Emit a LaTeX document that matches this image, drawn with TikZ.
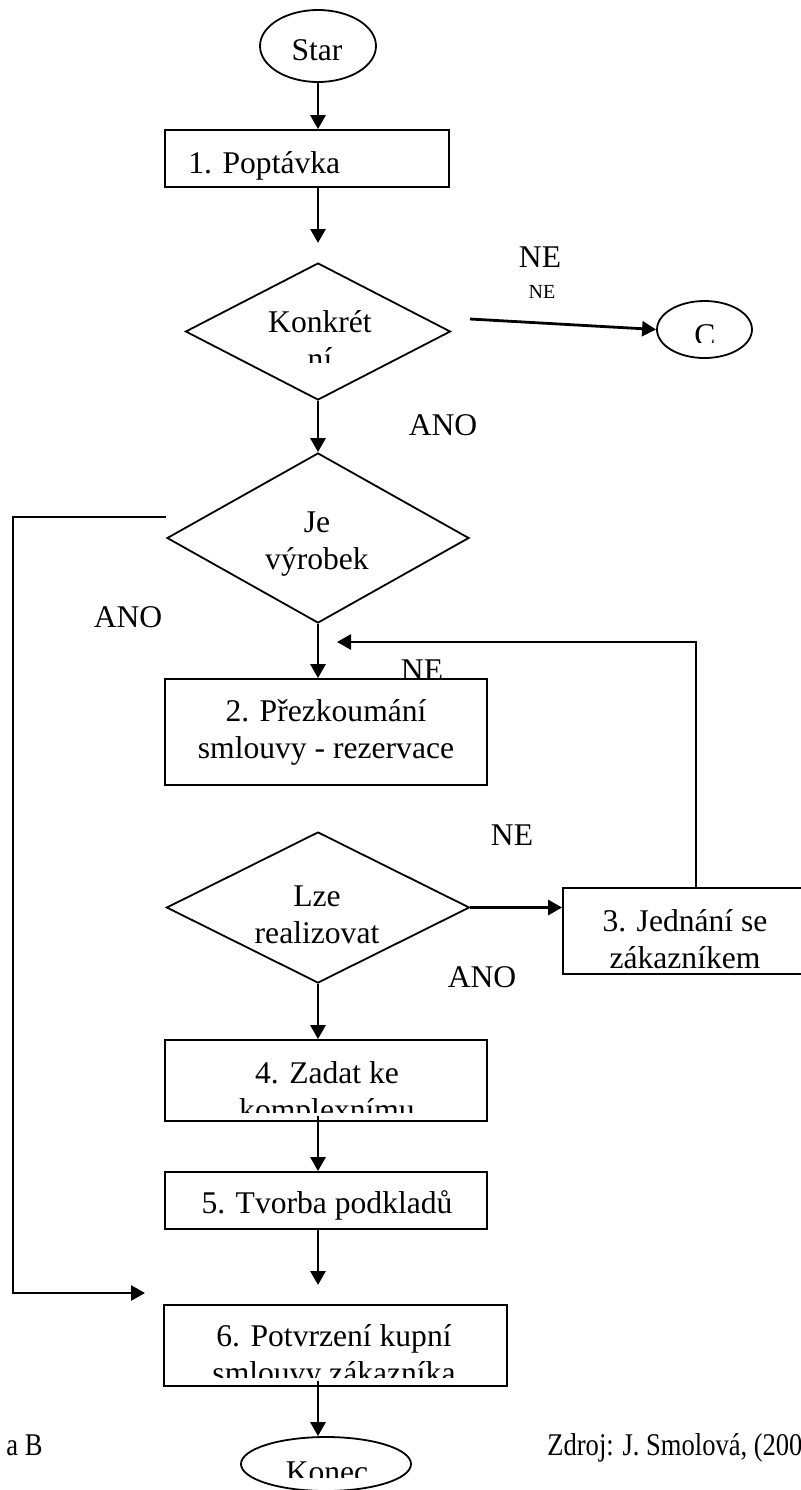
\documentclass[tikz,border=0pt]{standalone}
\usepackage{fontspec}
\setmainfont{Liberation Serif}
\newfontfamily\narrowserif[FakeStretch=0.84]{Liberation Serif}
\usetikzlibrary{shapes.geometric, arrows.meta}

\begin{document}
\begin{tikzpicture}[x=0.5pt, y=-0.5pt,
  txt/.style={font=\fontsize{15.8}{18.5}\selectfont, inner sep=0pt, align=center, anchor=base},
  smalltxt/.style={font=\fontsize{10}{12}\selectfont, inner sep=0pt, anchor=base},
  foot/.style={font=\narrowserif\fontsize{15.8}{18.5}\selectfont, inner sep=0pt, anchor=base west},
  boxshape/.style={draw, line width=0.9pt, fill=white, rectangle, inner sep=0pt},
  decision/.style={draw, line width=0.9pt, diamond, inner sep=0pt},
  terminal/.style={draw, line width=0.9pt, ellipse, inner sep=0pt},
  flow/.style={line width=1.4pt, -{Triangle[length=7pt,width=7.5pt]}},
]
\useasboundingbox (0,0) rectangle (800,1490);

% shapes of the flow (two-line texts are placed by the baseline of their last line)
\node[terminal, minimum width=58pt, minimum height=36pt] (start) at (318,46) {};
\node[txt] (startT) at (317,60) {Star};

\node[boxshape, minimum width=142pt, minimum height=28.5pt] (p1) at (307,158.5) {};
\node[txt, anchor=base west] (p1T) at (188,173) {1. Poptávka};

\node[decision, minimum width=132.5pt, minimum height=68.5pt] (d1) at (318,331.5) {};
\begin{scope}
  \clip (0,0) rectangle (800,362);
  \node[txt] (d1T) at (320,369) {Konkrét\\ní};
\end{scope}

\node[terminal, minimum width=47.5pt, minimum height=28.5pt] (cc) at (704.5,329.5) {};
\begin{scope}
  \clip (0,0) rectangle (800,342);
  \node[txt] (ccT) at (705,345) {C};
\end{scope}

\node[decision, minimum width=151pt, minimum height=85pt] (d2) at (318,538) {};
\node[txt] (d2T) at (317,569) {Je\\výrobek};

% label partly hidden behind box 2
\node[txt] (ne2) at (422,680) {NE};
\node[boxshape, minimum width=161pt, minimum height=53pt] (p2) at (326,732) {};
\node[txt] (p2T) at (326,758) {2. Přezkoumání\\smlouvy - rezervace};

\node[decision, minimum width=151.5pt, minimum height=75.5pt] (d3) at (318,907.5) {};
\node[txt] (d3T) at (317,943) {Lze\\realizovat};

\node[boxshape, minimum width=122pt, minimum height=43pt] (p3) at (685,931) {};
\node[txt] (p3T) at (685,968) {3. Jednání se\\zákazníkem};

\node[boxshape, minimum width=161pt, minimum height=40.5pt] (p4) at (326,1080.5) {};
\begin{scope}
  \clip (0,0) rectangle (800,1112);
  \node[txt] (p4T) at (327,1120) {4. Zadat ke\\komplexnímu};
\end{scope}

\node[boxshape, minimum width=161pt, minimum height=28.5pt] (p5) at (326,1200.5) {};
\node[txt] (p5T) at (327,1213) {5. Tvorba podkladů};

\node[boxshape, minimum width=171.5pt, minimum height=40.5pt] (p6) at (335.5,1345.5) {};
\begin{scope}
  \clip (0,0) rectangle (800,1377);
  \node[txt] (p6T) at (334,1383) {6. Potvrzení kupní\\smlouvy zákazníka};
\end{scope}

\node[terminal, minimum width=85pt, minimum height=27pt] (stop) at (326,1464) {};
\begin{scope}
  \clip (0,0) rectangle (800,1477);
  \node[txt] (stopT) at (327,1482) {Konec};
\end{scope}

% branch labels
\node[txt] (ne1) at (540,267) {NE};
\node[smalltxt] (ne1b) at (542,298) {NE};
\node[txt] (ano1) at (443,435) {ANO};
\node[txt] (ano2) at (128,627) {ANO};
\node[txt] (ne3) at (512,845) {NE};
\node[txt] (ano3) at (482,987) {ANO};

% footer
\node[foot] (srcL) at (6,1455) {a B};
\node[foot] (src) at (547,1455) {Zdroj: J. Smolová, (200};

% connectors
\coordinate (axis) at (318,0);
\coordinate (d1in) at (318,243);
\coordinate (d1out) at (470,319);
\coordinate (ret) at (337,642);
\coordinate (yesA) at (166,517);
\coordinate (yesB) at (145,1293);
\coordinate (gap6) at (318,1285);

\draw[flow] (start.south) -- (start.south |- p1.north);
\draw[flow] (p1.south -| d1in) -- (d1in);
\draw[flow] (d1out) -- (cc.west);
\draw[flow] (d1.south) -- (d2.north);
\draw[flow] (d2.south) -- (p2.north -| axis);
\draw[flow] ([xshift=5.5pt]p3.north) |- (ret);
\draw[flow] (yesA) -- ++(-153,0) |- (yesB);
\draw[flow] (d3.east) -- (d3.east -| p3.west);
\draw[flow] (d3.south) -- (p4.north -| axis);
\draw[flow] ([yshift=3pt]p4.south -| axis) -- (p5.north -| axis);
\draw[flow] (p5.south -| axis) -- (gap6);
\draw[flow] ([yshift=3pt]p6.south -| axis) -- (stop.north -| axis);
\end{tikzpicture}
\end{document}
